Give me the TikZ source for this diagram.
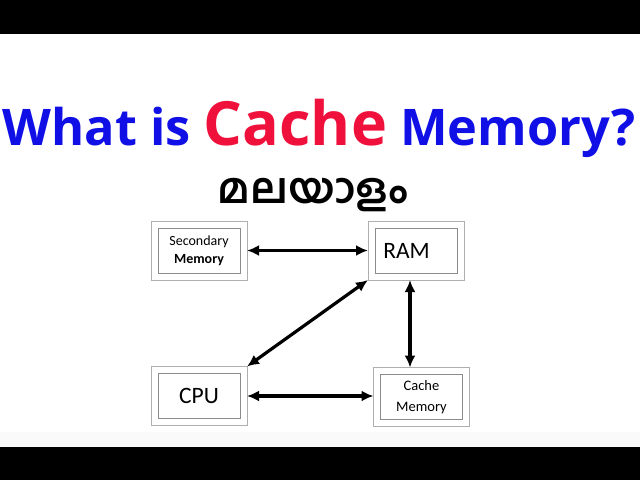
\documentclass[tikz,border=0pt]{standalone}
\usepackage{fontspec}
\setmainfont{Carlito}
\newfontfamily\titlefont{Open Sans}
\newfontfamily\mlfont[Script=Malayalam]{Hind Kochi}
\usetikzlibrary{arrows.meta}
\definecolor{titleblue}{RGB}{16,16,230}
\definecolor{titlered}{RGB}{240,16,60}
\definecolor{boxgray}{RGB}{140,140,140}
\definecolor{framegray}{RGB}{175,175,175}
\tikzset{
  unitbox/.style={draw=boxgray, line width=0.8pt, outer sep=7pt,
    minimum width=82pt, minimum height=45pt, inner sep=0pt, align=center},
  smalltext/.style={font=\fontsize{14}{18}\selectfont},
  bigtext/.style={font=\fontsize{23.5}{26}\selectfont},
  link/.style={<->, >={Latex[length=12pt,width=11pt]}, line width=3.2pt},
}
\begin{document}
\begin{tikzpicture}[x=1pt,y=-1pt]
    \useasboundingbox (0,0) rectangle (640,480);
    
    % Bars
    \fill[black] (0,0) rectangle (640,34);
    \fill[gray!4] (0,432) rectangle (640,447);
    \fill[black] (0,447) rectangle (640,480);
    % Title
    \node[anchor=base, inner sep=0pt] (title) at (319,145)
    {\titlefont\bfseries\fontsize{50.5}{56}\selectfont
     {\color{titleblue}What is}\
     {\color{titlered}\fontsize{61}{66}\selectfont Cache}\
     {\color{titleblue}Memory?}};
    \node[anchor=base, inner sep=0pt] (lang) at (313,203)
    {\mlfont\bfseries\fontsize{42}{48}\selectfont മലയാളം};
    % Boxes
    \node[unitbox, smalltext] (sec) at (199,250.5)
    {Secondary\\ \textbf{Memory}};
    \node[unitbox, bigtext] (ram) at (416,250.5)
    {\hspace*{-19pt}RAM};
    \node[unitbox, bigtext] (cpu) at (199,396)
    {CPU};
    \node[unitbox, font=\fontsize{14.5}{21}\selectfont] (cache) at (421.5,397)
    {Cache\\ Memory};
    % Frames
    \foreach \unit in {sec,ram,cpu,cache}
        \draw[framegray, line width=0.8pt]
        (\unit.north west) rectangle (\unit.south east);
    % Arrows
    \draw[link] (sec.east) -- (ram.west);
    \draw[link] (cpu.east) -- (cpu.east -| cache.west);
    \draw[link] ([xshift=-6pt]ram.south) -- ([xshift=-6pt]ram.south |- cache.north);
    \draw[link] (ram.south west) -- (cpu.north east);
    
\end{tikzpicture}
\end{document}
